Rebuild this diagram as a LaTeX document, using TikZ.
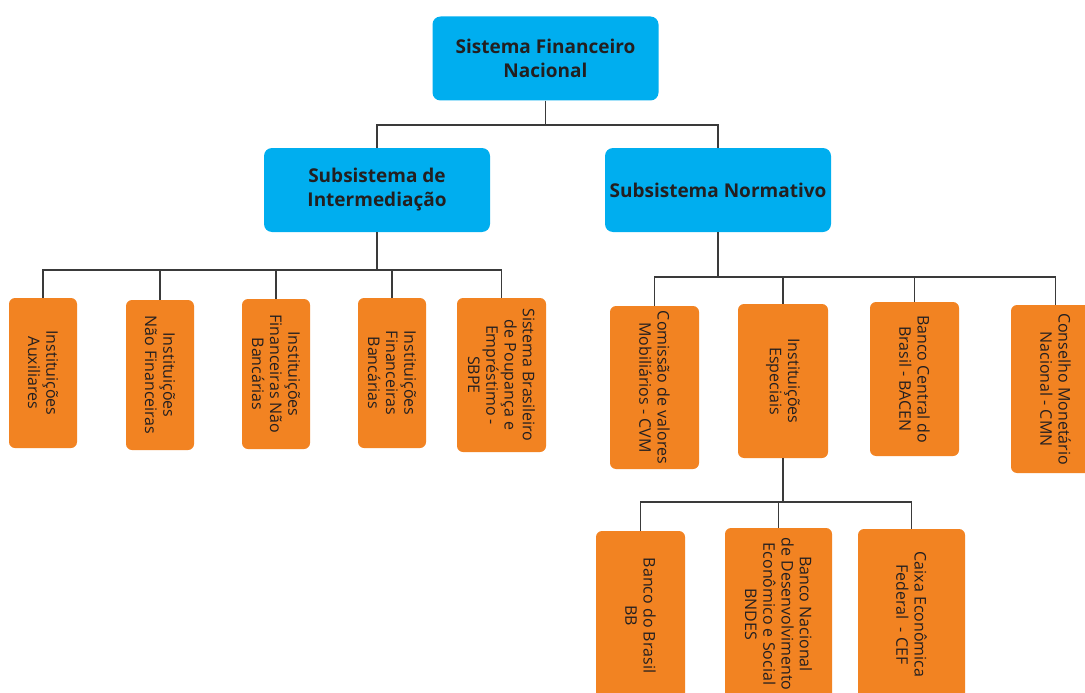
\documentclass[tikz,border=0pt]{standalone}
\usepackage{fontspec}
\setmainfont{Open Sans}
\usepackage{xcolor}
\usepackage{tikz}
\usetikzlibrary{shapes,arrows}
\definecolor{azul}{HTML}{00AEEF}
\definecolor{laranja}{HTML}{F28322}
\definecolor{texto}{HTML}{231F20}
\definecolor{linha}{HTML}{3A3A3A}
\tikzset{nivel/.style = {shape=rectangle,fill=azul,rounded corners=8pt,text=texto,align=center,font=\fontsize{19}{24}\selectfont\bfseries,minimum width=226pt,minimum height=84pt,inner sep=0pt}}
\tikzset{folha/.style = {shape=rectangle,fill=laranja,rounded corners=6pt,text=texto,align=center,rotate=-90,font=\fontsize{16}{18.2}\selectfont,inner sep=0pt}}
\tikzset{edge/.style = {draw=linha,line width=1.6pt}}

\begin{document}
\begin{tikzpicture}[x=1pt,y=-1pt]
		\useasboundingbox (0,0) rectangle (1085,693);
		% vertices
		\node[nivel] (sfn) at (545.5,58.5) {Sistema Financeiro\\Nacional};
		\node[nivel] (sint) at (377,190) {Subsistema de\\Intermedia\c{c}\~ao};
		\node[nivel] (snor) at (718,190) {Subsistema Normativo};
		\node[folha,minimum width=150pt,minimum height=68pt] (aux) at (43,373) {Institui\c{c}\~oes\\Auxiliares};
		\node[folha,minimum width=150pt,minimum height=68pt] (naofin) at (160,375) {Institui\c{c}\~oes\\N\~ao Financeiras};
		\node[folha,minimum width=150pt,minimum height=68pt] (finnb) at (276,374) {Institui\c{c}\~oes\\Financeiras N\~ao\\Banc\'arias};
		\node[folha,minimum width=150pt,minimum height=68pt] (finb) at (392,373) {Institui\c{c}\~oes\\Financeiras\\Banc\'arias};
		\node[folha,minimum width=154pt,minimum height=89pt] (sbpe) at (501.5,375) {Sistema Brasileiro\\de Poupan\c{c}a e\\Empr\'estimo -\\SBPE};
		\node[folha,minimum width=163pt,minimum height=89pt] (cvm) at (654.5,387.5) {Comiss\~ao de valores\\Mobili\'arios - CVM};
		\node[folha,minimum width=154pt,minimum height=90pt] (esp) at (783,381) {Institui\c{c}\~oes\\Especiais};
		\node[folha,minimum width=154pt,minimum height=89pt] (bacen) at (914.5,379) {Banco Central do\\Brasil - BACEN};
		\node[folha,minimum width=168pt,minimum height=89pt] (cmn) at (1055.5,389) {Conselho Monet\'ario\\Nacional - CMN};
		\node[folha,minimum width=169pt,minimum height=89pt] (bb) at (640.5,615.5) {Banco do Brasil\\BB};
		\node[folha,minimum width=172pt,minimum height=107pt] (bndes) at (778.5,614) {Banco Nacional\\de Desenvolvimento\\Econ\^omico e Social\\BNDES};
		\node[folha,minimum width=171pt,minimum height=107pt] (cef) at (911.5,614.5) {Caixa Econ\^omica\\Federal \ - CEF};
		%edges
		\draw[edge] (sfn.south) -- ++(0,24) -| (sint.north);
		\draw[edge] (sfn.south) -- ++(0,24) -| (snor.north);
		\draw[edge] (sint.south) -- ++(0,38) -| (aux.west);
		\draw[edge] (sint.south) -- ++(0,38) -| (naofin.west);
		\draw[edge] (sint.south) -- ++(0,38) -| (finnb.west);
		\draw[edge] (sint.south) -- ++(0,38) -| (finb.west);
		\draw[edge] (sint.south) -- ++(0,38) -| (sbpe.west);
		\draw[edge] (snor.south) -- ++(0,45) -| (cvm.west);
		\draw[edge] (snor.south) -- ++(0,45) -| (esp.west);
		\draw[edge] (snor.south) -- ++(0,45) -| (bacen.west);
		\draw[edge] (snor.south) -- ++(0,45) -| (cmn.west);
		\draw[edge] (esp.east) -- ++(0,44) -| (bb.west);
		\draw[edge] (esp.east) -- ++(0,44) -| (bndes.west);
		\draw[edge] (esp.east) -- ++(0,44) -| (cef.west);
	\end{tikzpicture}
\end{document}
